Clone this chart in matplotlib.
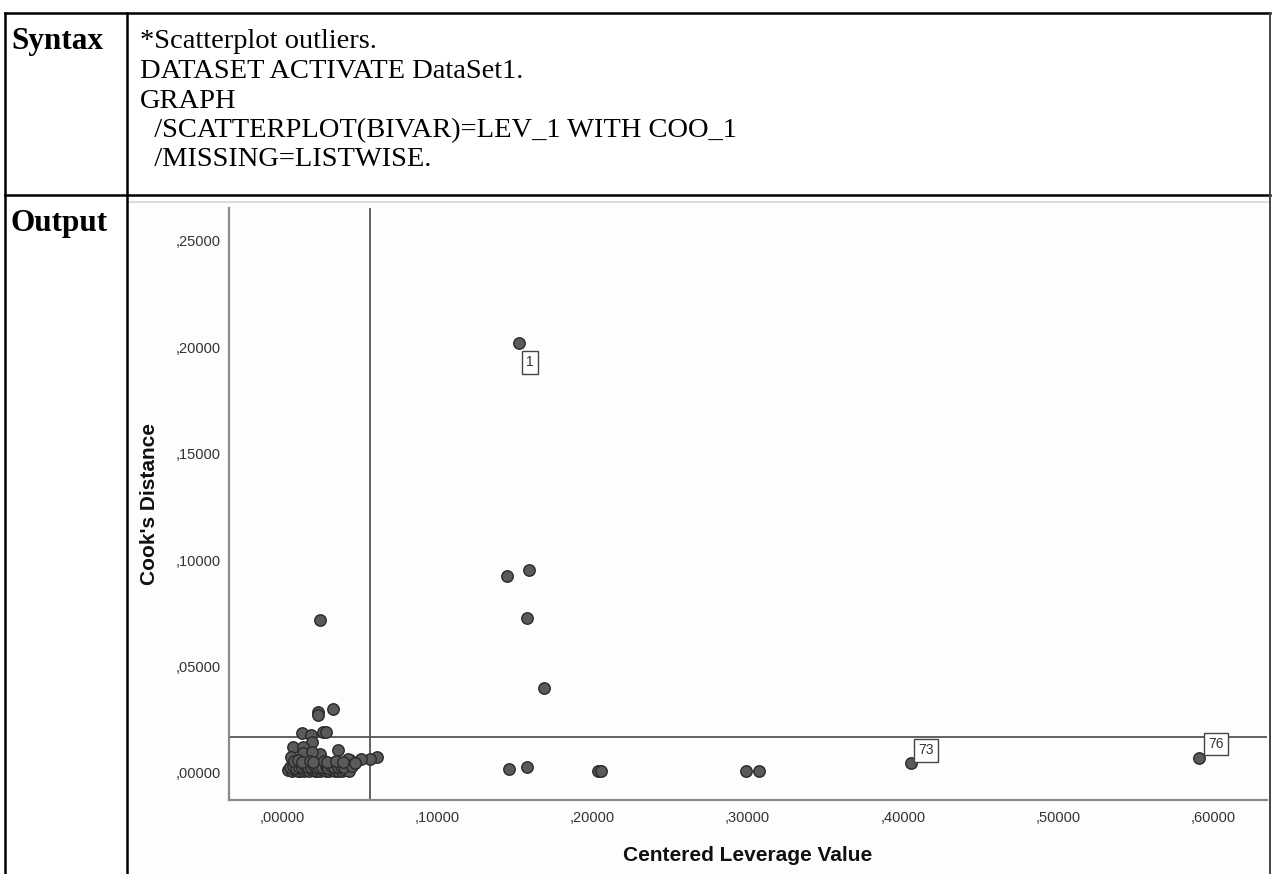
import matplotlib
matplotlib.use("Agg")
import matplotlib.pyplot as plt
from matplotlib.lines import Line2D
from matplotlib.ticker import FuncFormatter

# ---------------- data ----------------
syntax_lines = [
    "*Scatterplot outliers.",
    "DATASET ACTIVATE DataSet1.",
    "GRAPH",
    "  /SCATTERPLOT(BIVAR)=LEV_1 WITH COO_1",
    "  /MISSING=LISTWISE.",
]

# Centered leverage values (x) and Cook's distances (y)
lev = [
    # outliers / distant points
    0.1527, 0.1450, 0.1590, 0.1580, 0.1688, 0.1463, 0.1579,
    0.2036, 0.2055, 0.2990, 0.3073, 0.4053, 0.5909,
    # upper part of the cluster
    0.0245, 0.0230, 0.0234, 0.0331, 0.0131, 0.0187, 0.0262, 0.0284,
    0.0191, 0.0363, 0.0069, 0.0137, 0.0056, 0.0137, 0.0245, 0.0191,
    0.0614, 0.0567, 0.0507, 0.0438, 0.0425,
    # dense bottom of the cluster
    0.0417, 0.0363, 0.0309, 0.0245, 0.0159, 0.0095, 0.0052,
    0.0040, 0.0062, 0.0081, 0.0100, 0.0118, 0.0139, 0.0155, 0.0172,
    0.0190, 0.0211, 0.0228, 0.0246, 0.0265, 0.0283, 0.0301, 0.0322,
    0.0340, 0.0361, 0.0383, 0.0405, 0.0430,
    0.0048, 0.0071, 0.0090, 0.0112, 0.0131, 0.0150, 0.0168, 0.0186,
    0.0205, 0.0222, 0.0241, 0.0260, 0.0280, 0.0298, 0.0318, 0.0337,
    0.0358, 0.0378, 0.0399, 0.0452,
    0.0075, 0.0105, 0.0128, 0.0178, 0.0200, 0.0272, 0.0290, 0.0350,
    0.0392, 0.0470,
]
cook = [
    0.2021, 0.0926, 0.0954, 0.0728, 0.0399, 0.0019, 0.0028,
    0.0010, 0.0010, 0.0010, 0.0010, 0.0047, 0.0070,
    0.0719, 0.0285, 0.0273, 0.0299, 0.0189, 0.0177, 0.0191, 0.0191,
    0.0147, 0.0108, 0.0124, 0.0124, 0.0077, 0.0093, 0.0089, 0.0100,
    0.0077, 0.0064, 0.0066, 0.0061, 0.0066,
    0.0038, 0.0046, 0.0048, 0.0038, 0.0038, 0.0046, 0.0022,
    0.0012, 0.0009, 0.0013, 0.0008, 0.0011, 0.0007, 0.0012, 0.0009,
    0.0013, 0.0008, 0.0011, 0.0007, 0.0012, 0.0010, 0.0008, 0.0013,
    0.0009, 0.0011, 0.0008, 0.0012, 0.0010,
    0.0028, 0.0031, 0.0025, 0.0030, 0.0027, 0.0033, 0.0026, 0.0029,
    0.0032, 0.0024, 0.0030, 0.0027, 0.0034, 0.0025, 0.0031, 0.0028,
    0.0026, 0.0032, 0.0029, 0.0035,
    0.0055, 0.0060, 0.0052, 0.0058, 0.0050, 0.0056, 0.0053, 0.0057,
    0.0051, 0.0045,
]

labels = {0: "1", 11: "73", 12: "76"}
label_offsets = {0: (8, -14), 11: (11, 9), 12: (12, 10)}

lev_cut = 0.0567
cook_cut = 0.0169

xticks = [0.0, 0.1, 0.2, 0.3, 0.4, 0.5, 0.6]
yticks = [0.0, 0.05, 0.10, 0.15, 0.20, 0.25]

# ---------------- figure ----------------
W, H = 1273, 874
fig = plt.figure(figsize=(W / 100, H / 100), dpi=100)
fig.patch.set_facecolor("white")

# overlay for the table (pixel coordinates)
bg = fig.add_axes([0, 0, 1, 1])
bg.set_xlim(0, W)
bg.set_ylim(H, 0)
bg.axis("off")

# output panel background + light blue top line
bg.add_patch(plt.Rectangle((128, 201), 1141, 673, facecolor="#fdfdfd", edgecolor="none", zorder=0))
bg.add_line(Line2D([128, 1269], [202, 202], color="#c8d8ea", lw=1.2, zorder=1))

tb = dict(color="black", lw=1.8, zorder=2, solid_capstyle="projecting")
bg.add_line(Line2D([5, 1270], [13, 13], **tb))
bg.add_line(Line2D([5, 1270], [195, 195], **tb))
bg.add_line(Line2D([5, 5], [13, H], **tb))
bg.add_line(Line2D([127, 127], [13, H], **tb))
bg.add_line(Line2D([1270, 1270], [13, H], color="#444444", lw=1.4, zorder=2))

serif = "Liberation Serif"
bg.text(11, 42, "Syntax", fontsize=22.5, fontweight="bold", family=serif, va="center", ha="left")
bg.text(11, 224, "Output", fontsize=22.5, fontweight="bold", family=serif, va="center", ha="left")
for i, line in enumerate(syntax_lines):
    bg.text(140, 42 + i * 29.5, line, fontsize=20.5, family=serif, va="center", ha="left")

# ---------------- scatter ----------------
left, right, top, bottom = 229, 1267, 208, 800
ax = fig.add_axes([left / W, (H - bottom) / H, (right - left) / W, (bottom - top) / H])
ax.set_facecolor("none")
ax.set_xlim(-0.0342, 0.6347)
ax.set_ylim(-0.0127, 0.2655)

for s in ["top", "right"]:
    ax.spines[s].set_visible(False)
for s in ["left", "bottom"]:
    ax.spines[s].set_color("#8a8a8a")
    ax.spines[s].set_linewidth(1.6)

ax.axvline(lev_cut, color="#555555", lw=1.3, zorder=1)
ax.axhline(cook_cut, color="#555555", lw=1.3, zorder=1)

ax.scatter(lev, cook, s=68, facecolor="#5a5a5a", edgecolor="#2a2a2a", linewidths=1.0, zorder=3)

for idx, txt in labels.items():
    ax.annotate(txt, (lev[idx], cook[idx]), xytext=label_offsets[idx], textcoords="offset points",
                ha="center", va="center", fontsize=10, family="Liberation Sans", color="#333333",
                bbox=dict(boxstyle="square,pad=0.3", facecolor="white", edgecolor="#444444", lw=1.0),
                zorder=4)

fmt = FuncFormatter(lambda v, p: "," + f"{v:.5f}".split(".")[1])
ax.set_xticks(xticks)
ax.set_yticks(yticks)
ax.xaxis.set_major_formatter(fmt)
ax.yaxis.set_major_formatter(fmt)
ax.tick_params(length=0, labelsize=10.5, labelcolor="#333333")
ax.tick_params(axis="x", pad=8)
ax.tick_params(axis="y", pad=6)
for lab in ax.get_xticklabels() + ax.get_yticklabels():
    lab.set_family("Liberation Sans")

ax.set_xlabel("Centered Leverage Value", fontsize=15, fontweight="bold", family="Liberation Sans",
              color="#111111", labelpad=15)
ax.set_ylabel("Cook's Distance", fontsize=15, fontweight="bold", family="Liberation Sans",
              color="#111111", labelpad=12)

fig.savefig("out.png", dpi=100, facecolor="white")
